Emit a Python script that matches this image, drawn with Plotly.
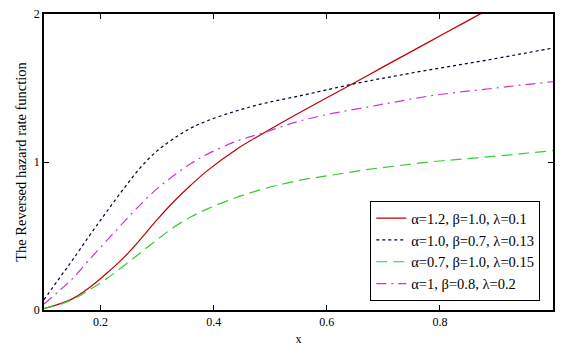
import plotly.graph_objects as go

# valores
x_vals = [0.10, 0.13, 0.15, 0.18, 0.21, 0.24, 0.27, 0.30, 0.33, 0.36, 0.39,
          0.44, 0.49, 0.55, 0.61, 0.67, 0.72, 0.78, 0.84, 0.90, 0.95, 1.00]

y_rojo = [0.01, 0.045, 0.075, 0.15, 0.245, 0.35, 0.475, 0.61, 0.735, 0.845, 0.945,
          1.085, 1.20, 1.33, 1.455, 1.58, 1.685, 1.81, 1.935, 2.06, 2.16, 2.26]
y_negro = [0.07, 0.23, 0.335, 0.50, 0.66, 0.815, 0.96, 1.075, 1.16, 1.23, 1.28,
           1.345, 1.397, 1.445, 1.496, 1.545, 1.58, 1.622, 1.66, 1.70, 1.735, 1.77]
y_verde = [0.01, 0.04, 0.07, 0.135, 0.21, 0.295, 0.385, 0.475, 0.56, 0.63, 0.685,
           0.76, 0.82, 0.875, 0.912, 0.948, 0.972, 1.00, 1.02, 1.04, 1.058, 1.077]
y_magenta = [0.04, 0.14, 0.21, 0.34, 0.465, 0.59, 0.71, 0.82, 0.91, 0.99, 1.055,
             1.14, 1.20, 1.275, 1.328, 1.37, 1.405, 1.445, 1.475, 1.50, 1.522, 1.543]

nombres = ['α=1.2, β=1.0, λ=0.1', 'α=1.0, β=0.7, λ=0.13',
           'α=0.7, β=1.0, λ=0.15', 'α=1, β=0.8, λ=0.2']
x_ticks = [0.2, 0.4, 0.6, 0.8]
y_ticks = [0, 1, 2]

series = [
    (y_rojo, '#c00000', 'solid'),
    (y_negro, '#000033', 'dot'),
    (y_verde, '#33cc33', '11px,6px'),
    (y_magenta, '#cc33cc', '10px,5px,2px,5px'),
]

fig = go.Figure()
for (ys, color, dash), nombre in zip(series, nombres):
    fig.add_trace(go.Scatter(
        x=x_vals, y=ys, name=nombre, mode='lines',
        line=dict(color=color, width=1.2, dash=dash, shape='spline', smoothing=1),
    ))

fuente = 'Liberation Serif'
fig.update_layout(
    width=561, height=354,
    margin=dict(l=44, r=8, t=14, b=44),
    paper_bgcolor='white', plot_bgcolor='white',
    font=dict(family=fuente, size=12, color='black'),
    showlegend=True,
    legend=dict(
        x=0.975, y=0.03, xanchor='right', yanchor='bottom',
        bgcolor='white', bordercolor='black', borderwidth=1,
        font=dict(family=fuente, size=14.5), itemwidth=30,
        tracegroupgap=0,
    ),
)
fig.update_xaxes(
    range=[0.1, 1.0], tickvals=x_ticks, ticktext=[str(t) for t in x_ticks],
    ticks='inside', ticklen=5, tickcolor='black',
    showline=True, linecolor='black', linewidth=1.5, mirror='ticks',
    showgrid=False, zeroline=False, automargin=False,
    title=dict(text='x', font=dict(size=12), standoff=6),
)
fig.update_yaxes(
    range=[0, 2], tickvals=y_ticks, ticktext=[str(t) for t in y_ticks],
    ticks='inside', ticklen=5, tickcolor='black',
    showline=True, linecolor='black', linewidth=1.5, mirror='ticks',
    showgrid=False, zeroline=False, automargin=False,
    title=dict(text='The Reversed hazard rate function', font=dict(size=14.5), standoff=4),
)

# sin margen del body para que el gráfico quede en la esquina
fig.write_html('out.html', config={'displayModeBar': False},
               post_script="document.body.style.margin='0px';")
